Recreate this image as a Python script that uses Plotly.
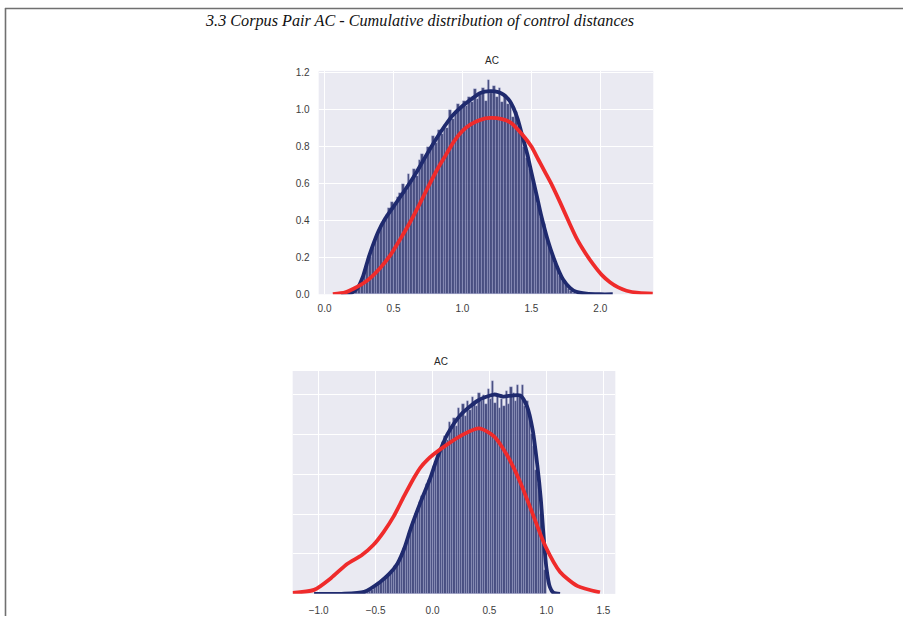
import numpy as np
import plotly.graph_objects as go

W, H = 903, 622

# ---------------- data: top panel ----------------
top_bin_lo = 0.20
top_bin_w = 0.02
top_hist = [0.01, 0.02, 0.04, 0.07, 0.11, 0.16, 0.20, 0.25, 0.29, 0.33,
            0.36, 0.40, 0.43, 0.47, 0.50, 0.48, 0.53, 0.55, 0.60, 0.56,
            0.65, 0.62, 0.68, 0.64, 0.73, 0.76, 0.74, 0.80, 0.78, 0.86,
            0.82, 0.89, 0.87, 0.92, 0.90, 1.00, 0.95, 0.98, 1.03, 1.01,
            1.05, 1.02, 1.07, 1.04, 1.11, 1.06, 1.08, 1.12, 1.05, 1.16,
            1.09, 1.13, 1.07, 1.12, 1.04, 1.08, 1.03, 1.05, 0.96, 0.99,
            0.90, 0.88, 0.80, 0.74, 0.68, 0.62, 0.56, 0.49, 0.42, 0.38,
            0.31, 0.27, 0.22, 0.17, 0.13, 0.10, 0.07, 0.05, 0.03, 0.02, 0.01]

top_blue_x = [0.12, 0.20, 0.24, 0.28, 0.32, 0.35, 0.39, 0.44, 0.50, 0.57, 0.62, 0.67,
              0.72, 0.80, 0.87, 0.93, 1.00, 1.07, 1.13, 1.20, 1.26, 1.30, 1.34, 1.37,
              1.40, 1.43, 1.47, 1.50, 1.54, 1.57, 1.62, 1.66, 1.70, 1.73, 1.78, 1.82,
              1.90, 2.00, 2.09]
top_blue_y = [0.0, 0.01, 0.035, 0.10, 0.20, 0.265, 0.34, 0.41, 0.475, 0.55, 0.605, 0.665,
              0.73, 0.83, 0.91, 0.97, 1.02, 1.06, 1.09, 1.10, 1.095, 1.08, 1.05, 1.01,
              0.95, 0.87, 0.76, 0.66, 0.53, 0.43, 0.29, 0.20, 0.125, 0.08, 0.035, 0.015,
              0.003, 0.0, 0.0]

top_red_x = [0.06, 0.15, 0.21, 0.31, 0.40, 0.48, 0.55, 0.62, 0.69, 0.75, 0.82, 0.88,
             0.94, 1.00, 1.06, 1.13, 1.20, 1.28, 1.35, 1.44, 1.50, 1.55, 1.60, 1.65,
             1.71, 1.77, 1.83, 1.89, 1.95, 2.01, 2.07, 2.13, 2.19, 2.28, 2.38]
top_red_y = [0.0, 0.01, 0.03, 0.075, 0.14, 0.215, 0.30, 0.39, 0.49, 0.58, 0.68, 0.755,
             0.83, 0.885, 0.92, 0.945, 0.955, 0.95, 0.93, 0.86, 0.80, 0.73, 0.66, 0.59,
             0.495, 0.395, 0.30, 0.225, 0.16, 0.105, 0.065, 0.037, 0.019, 0.007, 0.003]

top_yticks = [0.0, 0.2, 0.4, 0.6, 0.8, 1.0, 1.2]
top_xticks = [0.0, 0.5, 1.0, 1.5, 2.0]

# ---------------- data: bottom panel ----------------
bot_bin_lo = -0.60
bot_bin_w = 0.02
bot_hist = [0.005, 0.01, 0.015, 0.02, 0.03, 0.04, 0.05, 0.06, 0.07, 0.08,
            0.09, 0.11, 0.12, 0.14, 0.15, 0.18, 0.20, 0.23, 0.26, 0.29,
            0.33, 0.36, 0.40, 0.42, 0.46, 0.49, 0.51, 0.55, 0.57, 0.60,
            0.64, 0.66, 0.70, 0.71, 0.76, 0.79, 0.77, 0.86, 0.82, 0.88,
            0.84, 0.93, 0.88, 0.95, 0.89, 0.97, 0.92, 0.99, 0.96, 0.94,
            1.01, 0.97, 1.00, 0.95, 1.03, 0.98, 1.07, 0.96, 1.00, 0.93,
            0.98, 0.94, 1.02, 0.95, 1.04, 1.01, 0.97, 1.05, 0.99, 1.05,
            0.94, 0.97, 0.90, 0.80, 0.74, 0.62, 0.55, 0.40, 0.27, 0.12]

bot_blue_x = [-1.04, -0.80, -0.60, -0.46, -0.38, -0.31, -0.25, -0.19, -0.105, -0.02,
              0.04, 0.13, 0.25, 0.40, 0.54, 0.62, 0.70, 0.77, 0.83, 0.88, 0.92, 0.95,
              0.97, 1.00, 1.03, 1.06, 1.12]
bot_blue_y = [0.0, 0.0, 0.01, 0.06, 0.10, 0.15, 0.225, 0.33, 0.46, 0.58,
              0.68, 0.80, 0.90, 0.97, 1.0, 0.99, 0.995, 0.995, 0.94, 0.82, 0.645, 0.48,
              0.33, 0.13, 0.035, 0.006, 0.0]

bot_red_x = [-1.23, -1.04, -0.89, -0.75, -0.62, -0.52, -0.43, -0.34, -0.25, -0.16,
             -0.105, -0.05, 0.01, 0.13, 0.27, 0.41, 0.54, 0.66, 0.77, 0.86, 0.99, 1.12,
             1.27, 1.47]
bot_red_y = [0.005, 0.02, 0.08, 0.15, 0.195, 0.245, 0.31, 0.39, 0.49, 0.585,
             0.635, 0.67, 0.70, 0.75, 0.80, 0.83, 0.79, 0.69, 0.56, 0.43, 0.24, 0.11,
             0.04, 0.007]

bot_yticks = [0.0, 0.2, 0.4, 0.6, 0.8, 1.0]
bot_xticks = [-1.0, -0.5, 0.0, 0.5, 1.0, 1.5]

title_text = "3.3 Corpus Pair AC - Cumulative distribution of control distances"
panel_title = "AC"

# ---------------- styles ----------------
BG = "#EAEAF2"
BAR_FILL = "rgba(26,33,98,0.78)"
BAR_EDGE = "rgba(200,205,238,0.6)"
BLUE = "#1f2a6e"
RED = "#ef2b2b"
TICKFONT = dict(family="Liberation Sans, Arial, sans-serif", size=10, color="#3c3c3c")


def px_x(p):
    return p / W


def px_y(p):
    return 1 - p / H


fig = go.Figure()

top_centers = [top_bin_lo + top_bin_w * (i + 0.5) for i in range(len(top_hist))]
bot_centers = [bot_bin_lo + bot_bin_w * (i + 0.5) for i in range(len(bot_hist))]

LINE_W = 3.8
SMOOTH = 0.7

fig.add_trace(go.Bar(x=top_centers, y=top_hist, width=top_bin_w, xaxis="x", yaxis="y",
                     marker=dict(color=BAR_FILL, line=dict(color=BAR_EDGE, width=0.5)),
                     showlegend=False, hoverinfo="skip"))
fig.add_trace(go.Scatter(x=top_blue_x, y=top_blue_y, xaxis="x", yaxis="y", mode="lines",
                         line=dict(color=BLUE, width=LINE_W, shape="spline", smoothing=SMOOTH),
                         showlegend=False, hoverinfo="skip"))
fig.add_trace(go.Scatter(x=top_red_x, y=top_red_y, xaxis="x", yaxis="y", mode="lines",
                         line=dict(color=RED, width=LINE_W, shape="spline", smoothing=SMOOTH),
                         showlegend=False, hoverinfo="skip"))

fig.add_trace(go.Bar(x=bot_centers, y=bot_hist, width=bot_bin_w, xaxis="x2", yaxis="y2",
                     marker=dict(color=BAR_FILL, line=dict(color=BAR_EDGE, width=0.5)),
                     showlegend=False, hoverinfo="skip"))
fig.add_trace(go.Scatter(x=bot_blue_x, y=bot_blue_y, xaxis="x2", yaxis="y2", mode="lines",
                         line=dict(color=BLUE, width=LINE_W, shape="spline", smoothing=SMOOTH),
                         showlegend=False, hoverinfo="skip"))
fig.add_trace(go.Scatter(x=bot_red_x, y=bot_red_y, xaxis="x2", yaxis="y2", mode="lines",
                         line=dict(color=RED, width=LINE_W, shape="spline", smoothing=SMOOTH),
                         showlegend=False, hoverinfo="skip"))

axis_common = dict(showgrid=True, gridcolor="white", gridwidth=1, zeroline=False,
                   showline=False, tickfont=TICKFONT, ticks="outside",
                   tickcolor="rgba(0,0,0,0)", fixedrange=True)

fig.update_layout(
    width=W, height=H,
    margin=dict(l=0, r=0, t=0, b=0),
    paper_bgcolor="white",
    plot_bgcolor=BG,
    barmode="overlay",
    bargap=0,
    xaxis=dict(domain=[px_x(318), px_x(653)], range=[-0.043, 2.384], anchor="y",
               tickvals=top_xticks, tickformat=".1f", ticklen=5, **axis_common),
    yaxis=dict(domain=[px_y(295), px_y(68)], range=[0, 1.21], anchor="x",
               tickvals=top_yticks, tickformat=".1f", ticklen=6, **axis_common),
    xaxis2=dict(domain=[px_x(292), px_x(615)], range=[-1.228, 1.605], anchor="y2",
                tickvals=bot_xticks, tickformat=".1f", ticklen=7, **axis_common),
    yaxis2=dict(domain=[px_y(599.5), px_y(373)], range=[0, 1.118], anchor="x2",
                tickvals=bot_yticks, showticklabels=False, ticklen=6, **axis_common),
    annotations=[
        dict(text="<i>" + title_text + "</i>", xref="paper", yref="paper",
             x=px_x(202), y=px_y(17), xanchor="left", yanchor="middle", showarrow=False,
             font=dict(family="Liberation Serif, DejaVu Serif, serif", size=16.2, color="#111111")),
        dict(text=panel_title, xref="paper", yref="paper", x=px_x(492), y=px_y(57),
             xanchor="center", yanchor="middle", showarrow=False,
             font=dict(family="Liberation Sans, Arial, sans-serif", size=10, color="#262626")),
        dict(text=panel_title, xref="paper", yref="paper", x=px_x(440), y=px_y(363),
             xanchor="center", yanchor="middle", showarrow=False,
             font=dict(family="Liberation Sans, Arial, sans-serif", size=10, color="#262626")),
    ],
    shapes=[
        dict(type="line", xref="paper", yref="paper", x0=px_x(4), x1=1, y0=px_y(4.5), y1=px_y(4.5),
             line=dict(color="#707070", width=1.6)),
        dict(type="line", xref="paper", yref="paper", x0=px_x(4.5), x1=px_x(4.5), y0=0, y1=px_y(4),
             line=dict(color="#707070", width=1.6)),
    ],
)

fig.write_html("out.html")
